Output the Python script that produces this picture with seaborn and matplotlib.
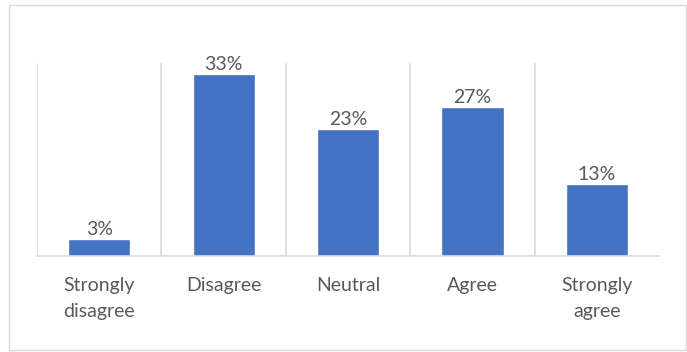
import matplotlib
matplotlib.use("Agg")
import matplotlib.pyplot as plt
import seaborn as sns
import pandas as pd
from matplotlib.patches import Rectangle

categories = ["Strongly\ndisagree", "Disagree", "Neutral", "Agree", "Strongly\nagree"]
values = [3, 33, 23, 27, 13]

sns.set_theme(style="white")
plt.rcParams['font.family'] = ['Lato', 'DejaVu Sans']

W, H = 687, 352
fig = plt.figure(figsize=(W / 100, H / 100), dpi=100)
ax = fig.add_axes([37 / W, (H - 256) / H, (659 - 37) / W, (256 - 63) / H])

df = pd.DataFrame({"cat": categories, "val": values})
sns.barplot(data=df, x="cat", y="val", color="#4472C4", width=0.5, ax=ax, saturation=1)

ax.set_ylim(0, 35.0)
ax.set_xlim(-0.5, len(categories) - 0.5)
ax.set_xlabel("")
ax.set_ylabel("")
ax.set_yticks([])
for s in ["top", "right", "left"]:
    ax.spines[s].set_visible(False)
ax.spines["bottom"].set_color("#D9D9D9")
ax.spines["bottom"].set_linewidth(1.2)

ax.set_xticks([i - 0.5 for i in range(len(categories))], minor=True)
ax.grid(which="minor", axis="x", color="#D9D9D9", linewidth=1.2)
ax.tick_params(axis="x", which="both", length=0, pad=15, labelsize=14, labelcolor="#595959")
for lbl in ax.get_xticklabels():
    lbl.set_linespacing(1.65)

for c in ax.containers:
    ax.bar_label(c, labels=[f"{v}%" for v in values], padding=1, fontsize=14, color="#595959")

fig.patches.append(Rectangle((9 / W, 2 / H), (686 - 9) / W, (350 - 5) / H,
                             transform=fig.transFigure, fill=False,
                             edgecolor="#D9D9D9", linewidth=1))

fig.savefig("out.png", dpi=100)
